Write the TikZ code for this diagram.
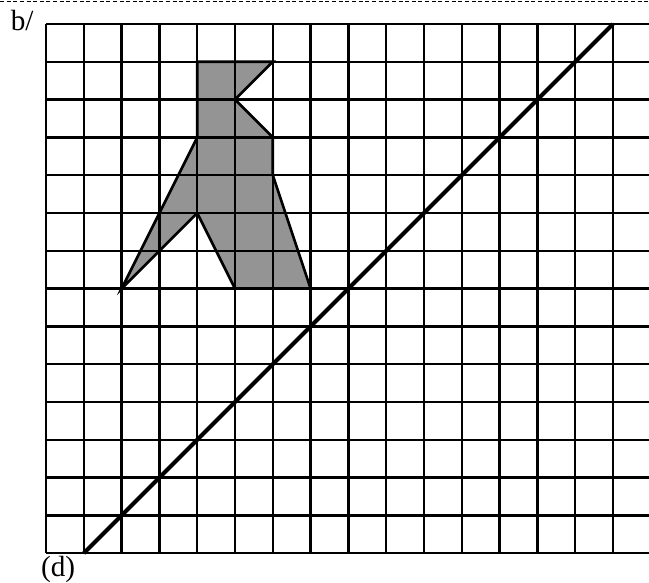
\documentclass[tikz,border=0pt]{standalone}
\usepackage{fontspec}
\setmainfont{Liberation Serif}
\usetikzlibrary{positioning}

\begin{document}
\begin{tikzpicture}[
			gridline/.style={line width=1.7pt},
			axisline/.style={line width=3pt},
			figure/.style={fill=black!42, draw, line width=2pt, line join=miter},
			lbl/.style={font=\fontsize{22}{26}\selectfont, inner sep=0pt}
			]
			\useasboundingbox (-1.217,-0.762) rectangle (15.952,14.635);
			\draw[dashed, line width=0.6pt, dash pattern=on 3pt off 2pt] (-1.217,14.61) -- (15.952,14.61);
			% shaded figure
			\filldraw[figure] (4,13) -- (6,13) -- (5,12) -- (6,11) -- (6,10) -- (7,7) -- (5,7)
				-- (4,9) -- (2,7) -- (4,11) -- cycle;
			% grid
			\foreach \x in {0,...,15}
				\draw[gridline] (\x,0) -- (\x,14);
			\foreach \y in {0,...,14}
				\draw[gridline] (0,\y) -- (15.952,\y);
			% line d
			\coordinate (dstart) at (1,0);
			\coordinate (dend) at (15,14);
			\draw[axisline] (dstart) -- (dend);
			\node[lbl] (part) at (-0.63,14.1) {b/};
			\node[lbl] (dname) at (0.32,-0.42) {(d)};
		\end{tikzpicture}
\end{document}
